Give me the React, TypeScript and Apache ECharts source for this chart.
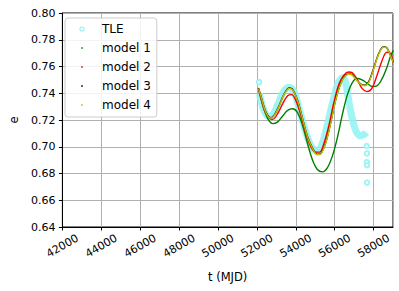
import React, { useEffect, useRef } from 'react';
import * as echarts from 'echarts';

// TLE observations (band) and isolated TLE points: [t (MJD), e]
const tleBand: number[][] = [
  [52136, 0.7395], [52306, 0.7296], [52476, 0.7240], [52646, 0.7223], [52901, 0.7260],
  [53156, 0.7345], [53411, 0.7419], [53666, 0.7444], [53921, 0.7407], [54176, 0.7284],
  [54431, 0.7149], [54686, 0.7038], [54941, 0.6977], [55145, 0.6970], [55366, 0.7026],
  [55621, 0.7161], [55876, 0.7321], [56131, 0.7456], [56386, 0.7515], [56520, 0.7500],
  [56640, 0.7420], [56780, 0.7300], [56947, 0.7186], [57117, 0.7112], [57321, 0.7083],
  [57525, 0.7092], [57627, 0.7107],
];
const tleOutliers: number[][] = [
  [52114, 0.7483], [57650, 0.7005], [57660, 0.6950], [57660, 0.6885], [57665, 0.6862], [57665, 0.6732],
];

const model1: number[][] = [
  [52085, 0.7431], [52306, 0.7309], [52561, 0.7210], [52816, 0.7173], [53071, 0.7186],
  [53326, 0.7230], [53581, 0.7272], [53836, 0.7284], [54091, 0.7255], [54346, 0.7161],
  [54601, 0.7026], [54856, 0.6903], [55111, 0.6830], [55366, 0.6812], [55621, 0.6842],
  [55876, 0.6928], [56131, 0.7063], [56386, 0.7235], [56641, 0.7382], [56896, 0.7476],
  [57151, 0.7510], [57406, 0.7500], [57661, 0.7476], [57916, 0.7451], [58171, 0.7456],
  [58426, 0.7505], [58681, 0.7591], [58885, 0.7682], [59021, 0.7721],
];
const model2: number[][] = [
  [52085, 0.7431], [52221, 0.7358], [52391, 0.7272], [52646, 0.7215], [52816, 0.7205],
  [53071, 0.7247], [53326, 0.7321], [53581, 0.7382], [53785, 0.7390], [54006, 0.7345],
  [54261, 0.7235], [54516, 0.7100], [54771, 0.7001], [55026, 0.6960], [55230, 0.6960],
  [55451, 0.7026], [55706, 0.7161], [55961, 0.7333], [56216, 0.7468], [56471, 0.7535],
  [56726, 0.7559], [56896, 0.7554], [57151, 0.7505], [57406, 0.7436], [57661, 0.7412],
  [57916, 0.7436], [58171, 0.7530], [58426, 0.7640], [58681, 0.7707], [58851, 0.7702],
  [59021, 0.7628],
];
const model3: number[][] = [
  [52085, 0.7440], [52221, 0.7372], [52391, 0.7288], [52561, 0.7234], [52731, 0.7218],
  [52901, 0.7238], [53156, 0.7312], [53411, 0.7398], [53666, 0.7440], [53836, 0.7430],
  [54091, 0.7348], [54346, 0.7212], [54601, 0.7078], [54856, 0.6992], [55111, 0.6943],
  [55281, 0.6948], [55536, 0.7030], [55791, 0.7178], [56046, 0.7350], [56301, 0.7472],
  [56556, 0.7534], [56811, 0.7545], [57066, 0.7512], [57321, 0.7470], [57525, 0.7460],
  [57746, 0.7485], [58001, 0.7585], [58256, 0.7693], [58511, 0.7748], [58681, 0.7740],
  [58851, 0.7690], [59021, 0.7630],
];
const model4: number[][] = [
  [52085, 0.7436], [52221, 0.7370], [52391, 0.7284], [52561, 0.7230], [52731, 0.7215],
  [52901, 0.7235], [53156, 0.7309], [53411, 0.7395], [53666, 0.7436], [53836, 0.7427],
  [54091, 0.7345], [54346, 0.7210], [54601, 0.7075], [54856, 0.6989], [55111, 0.6940],
  [55281, 0.6945], [55536, 0.7026], [55791, 0.7173], [56046, 0.7345], [56301, 0.7468],
  [56556, 0.7530], [56811, 0.7542], [57066, 0.7510], [57321, 0.7468], [57525, 0.7456],
  [57746, 0.7480], [58001, 0.7579], [58256, 0.7689], [58511, 0.7746], [58681, 0.7739],
  [58851, 0.7689], [59021, 0.7628],
];

const seriesNames = ['TLE', 'model 1', 'model 2', 'model 3', 'model 4'];
const seriesColors = ['#7fefef', '#008000', '#ff0000', '#000000', '#bfbf00'];

const FONT = 'DejaVu Sans';
const dotIcon = 'path://M0,0M30,6M14.2,2.2h1.6v1.6h-1.6z';
const ringIcon = 'path://M0,0M30,6M17.6,3A2.6,2.6 0 1,1 12.4,3A2.6,2.6 0 1,1 17.6,3ZM16.6,3A1.6,1.6 0 1,0 13.4,3A1.6,1.6 0 1,0 16.6,3Z';

export default function App() {
  const ref = useRef<HTMLDivElement>(null);
  useEffect(() => {
    if (!ref.current) return;
    const chart = echarts.init(ref.current, undefined, { renderer: 'svg' });
    const modelSeries = [model1, model2, model3, model4].map((d, i) => ({
      name: seriesNames[i + 1],
      type: 'line',
      data: d,
      smooth: 0.35,
      showSymbol: false,
      symbol: 'none',
      lineStyle: { color: seriesColors[i + 1], width: 1.4 },
      itemStyle: { color: seriesColors[i + 1] },
      z: 3 + i,
    }));
    chart.setOption({
      animation: false,
      backgroundColor: '#ffffff',
      grid: { left: 58, right: 6, top: 13, bottom: 64, show: true, borderColor: '#000', borderWidth: 1, backgroundColor: 'transparent' },
      xAxis: {
        type: 'value', min: 42000, max: 59000, interval: 2000,
        name: 't (MJD)', nameLocation: 'middle', nameGap: 44,
        nameTextStyle: { fontFamily: FONT, fontSize: 11.5, color: '#000' },
        axisLine: { show: true, onZero: false, lineStyle: { color: '#000', width: 1 } },
        axisTick: { show: true, inside: false, length: 3.5, lineStyle: { color: '#000' } },
        axisLabel: {
          rotate: 30, align: 'center', verticalAlign: 'middle', margin: 19,
          fontFamily: FONT, fontSize: 11, color: '#000', showMaxLabel: false,
          formatter: (v: number) => String(v),
        },
        splitLine: { show: true, lineStyle: { color: '#b0b0b0', width: 1 } },
      },
      yAxis: {
        type: 'value', min: 0.64, max: 0.8, interval: 0.02,
        name: 'e', nameLocation: 'middle', nameGap: 42, nameRotate: 90,
        nameTextStyle: { fontFamily: FONT, fontSize: 11.5, color: '#000' },
        axisLine: { show: true, lineStyle: { color: '#000', width: 1 } },
        axisTick: { show: true, inside: false, length: 3.5, lineStyle: { color: '#000' } },
        axisLabel: { margin: 7, fontFamily: FONT, fontSize: 11, color: '#000', formatter: (v: number) => v.toFixed(2) },
        splitLine: { show: true, lineStyle: { color: '#b0b0b0', width: 1 } },
      },
      legend: {
        orient: 'vertical', left: 65, top: 18,
        backgroundColor: 'rgba(255,255,255,0.85)', borderColor: '#cccccc', borderWidth: 1, borderRadius: 3,
        padding: [5, 6, 6, 2], itemWidth: 30, itemHeight: 6, itemGap: 7,
        textStyle: { fontFamily: FONT, fontSize: 12, color: '#000' },
        data: [
          { name: 'TLE', icon: ringIcon, itemStyle: { color: '#8ff2f2', borderWidth: 0 } },
          { name: 'model 1', icon: dotIcon, itemStyle: { color: seriesColors[1] } },
          { name: 'model 2', icon: dotIcon, itemStyle: { color: seriesColors[2] } },
          { name: 'model 3', icon: dotIcon, itemStyle: { color: seriesColors[3] } },
          { name: 'model 4', icon: dotIcon, itemStyle: { color: seriesColors[4] } },
        ],
      },
      series: [
        {
          name: 'TLE', type: 'line', data: tleBand, smooth: 0.35, symbol: 'none', showSymbol: false,
          lineStyle: { color: '#8ff2f2', width: 7, opacity: 0.85 }, itemStyle: { color: '#7fefef' }, z: 1,
        },
        {
          name: 'TLE', type: 'scatter', data: tleOutliers, symbol: 'emptyCircle', symbolSize: 4.5,
          itemStyle: { color: '#9ff4f4', borderColor: '#9ff4f4', borderWidth: 1, opacity: 1 }, z: 2,
        },
        ...modelSeries,
      ],
    });
    return () => chart.dispose();
  }, []);
  return <div ref={ref} style={{ width: 399, height: 291, position: 'absolute', left: 0, top: 0 }} />;
}
